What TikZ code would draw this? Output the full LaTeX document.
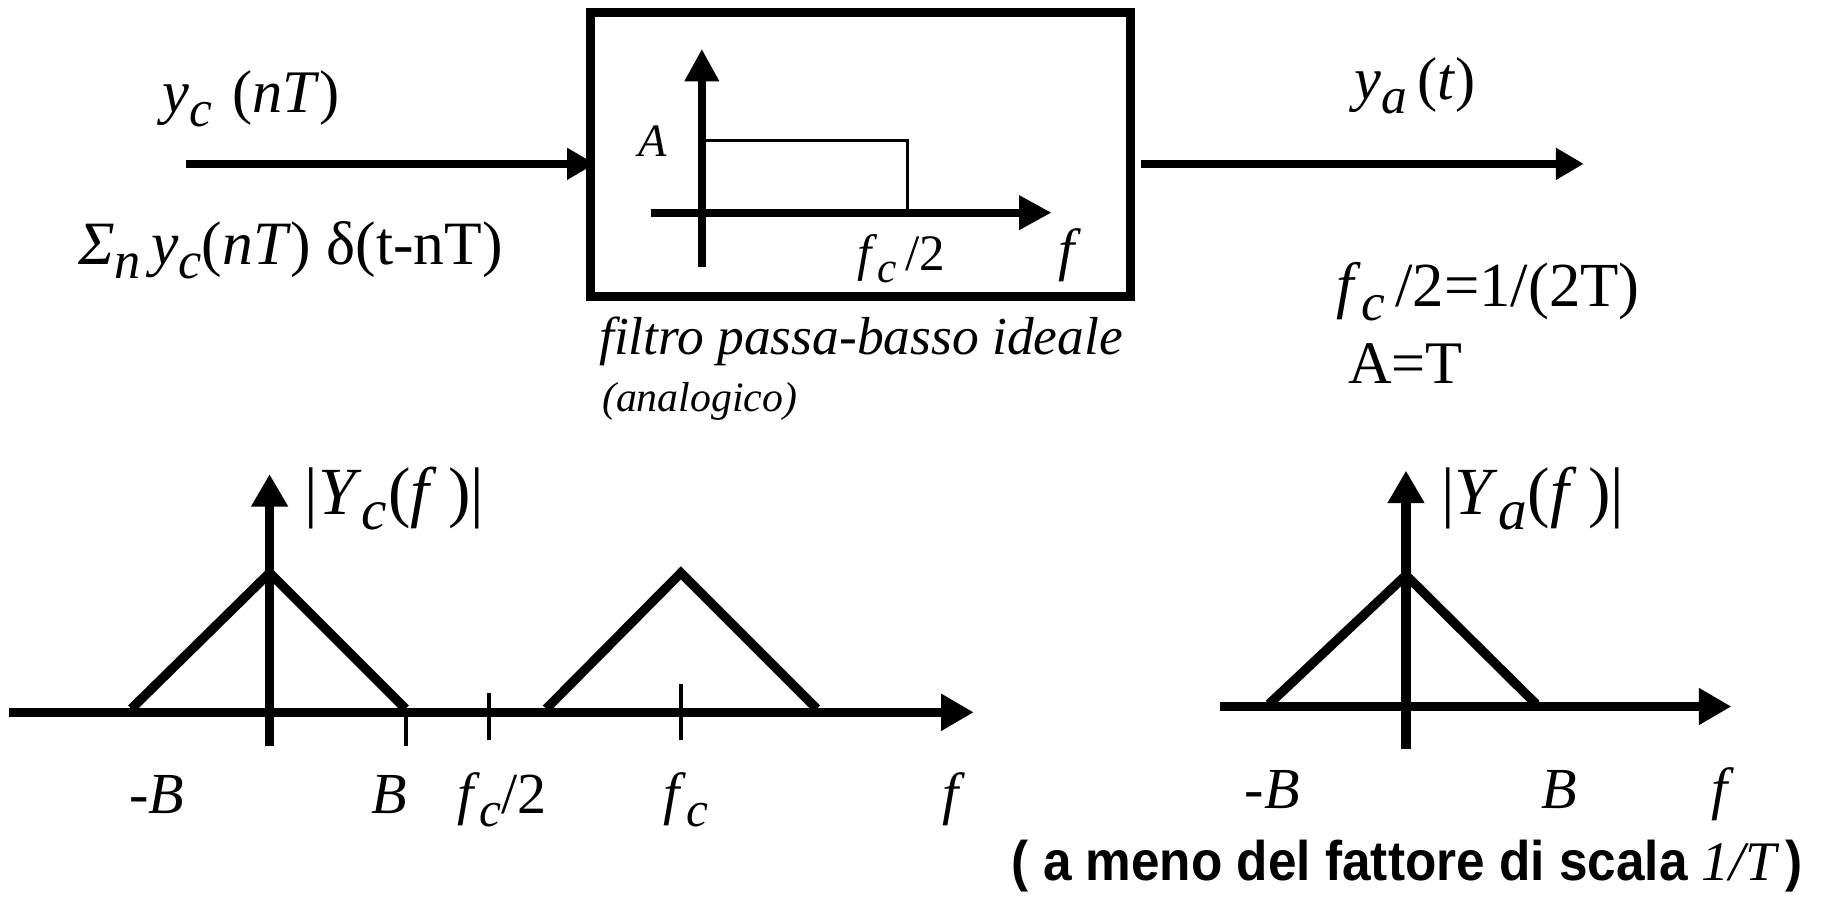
\documentclass[tikz,border=0pt]{standalone}
\usepackage{fontspec}
\usepackage{graphicx}
\setmainfont{Liberation Serif}
\newfontfamily\narrowsans[FakeStretch=0.92]{Liberation Sans}
\usetikzlibrary{arrows.meta}

% large, lowered subscript as in the original slide
\newcommand{\sbs}[1]{\raisebox{-0.22em}{\scalebox{0.85}{\itshape #1}}}

\tikzset{
  sig/.style={line width=7pt,-{Triangle[length=24pt,width=26pt]}},
  axis/.style={line width=8pt,-{Triangle[length=28pt,width=30pt]}},
  spec/.style={line width=8pt,line join=miter},
  tick/.style={line width=3.5pt},
  lbl/.style={inner sep=0pt,anchor=base,font=\fontsize{52}{56}\selectfont},
  axlbl/.style={lbl,font=\fontsize{50}{54}\selectfont\itshape},
}

\begin{document}
\begin{tikzpicture}[x=1pt,y=-1pt]
  \useasboundingbox (0,0) rectangle (1568,772);
  % filter block and signal path
  \node[draw,line width=8pt,minimum width=465pt,minimum height=244pt,inner sep=0pt] (filt) at (740.5,133) {};
  \coordinate (in) at (160,141);
  \coordinate (out) at (1363,141);
  \draw[sig,shorten >=-8pt] (in) -- (in -| filt.west);
  \draw[sig,shorten <=5pt] (filt.east |- out) -- (out);
  \node[lbl] (yc) at (216,97) {\textit{y}\sbs{c}\,\,(\textit{nT})};
  \node[lbl,font=\fontsize{53}{56}\selectfont] (sum) at (250,228) {\textit{Σ}\sbs{n}\,\textit{y}\sbs{c}(\textit{nT}) δ(t-nT)};
  \node[lbl] (ya) at (1218,86) {\textit{y}\sbs{a}\,(\textit{t})};
  \node[lbl,anchor=base west,font=\fontsize{54}{58}\selectfont] (fcrel) at (1150,264) {\textit{f}\sbs{c}\,/2=1/(2T)};
  \node[lbl,anchor=base west] (aeq) at (1160,330) {A=T};
  % ideal low-pass response inside the block
  \draw[sig,-{Triangle[length=28pt,width=28pt]}] (604,230) -- (604,42);
  \draw[sig,-{Triangle[length=28pt,width=28pt]}] (560,183) -- (905,183);
  \draw[line width=3pt] (604,121) -- (781,121) -- (781,183);
  \node[lbl,font=\fontsize{40}{44}\selectfont\itshape] (amp) at (562,135) {A};
  \node[lbl,font=\fontsize{44}{48}\selectfont] (cut) at (776,233) {\textit{f}\sbs{c}\,/2};
  \node[lbl,font=\fontsize{50}{54}\selectfont\itshape] (fin) at (918,232) {f};
  \node[lbl,font=\fontsize{46}{50}\selectfont\itshape] (name) at (741,305) {filtro passa-basso ideale};
  \node[lbl,anchor=base west,font=\fontsize{36}{40}\selectfont\itshape] (kind) at (518,354) {(analogico)};
  % spectrum of the sampled signal
  \draw[axis] (8,613) -- (838,613);
  \draw[axis] (232,642) -- (232,408);
  \draw[spec] (113,610) -- (232,493) -- (349,610);
  \draw[spec] (470,610) -- (586,493) -- (703,610);
  \draw[tick] (349,613) -- (349,642);
  \draw[tick] (421,596) -- (421,637);
  \draw[tick] (586,589) -- (586,637);
  \node[lbl,anchor=base west,font=\fontsize{58}{62}\selectfont] (specc) at (262,443) {|\textit{Y}\sbs{c}\kern1pt(\textit{f}\,)|};
  \node[axlbl] (mb1) at (135,700) {-B};
  \node[axlbl] (b1) at (335,700) {B};
  \node[lbl,font=\fontsize{50}{54}\selectfont] (half) at (432,700) {\textit{f}\sbs{c}/2};
  \node[lbl,font=\fontsize{50}{54}\selectfont] (fc) at (590,700) {\textit{f}\sbs{c}};
  \node[axlbl] (f1) at (818,700) {f};
  % spectrum of the reconstructed signal
  \draw[axis] (1050,608) -- (1490,608);
  \draw[axis] (1210,645) -- (1210,405);
  \draw[spec] (1092,606) -- (1210,495) -- (1322,606);
  \node[lbl,anchor=base west,font=\fontsize{58}{62}\selectfont] (speca) at (1240,443) {|\textit{Y}\sbs{a}\kern1pt(\textit{f}\,)|};
  \node[axlbl] (mb2) at (1095,696) {-B};
  \node[axlbl] (b2) at (1342,696) {B};
  \node[axlbl] (f2) at (1480,696) {f};
  \node[lbl,font=\fontsize{48}{52}\selectfont\narrowsans\bfseries] (note) at (1211,758) {( a meno del fattore di scala {\rmfamily\mdseries\itshape 1/T}\,)};
\end{tikzpicture}
\end{document}
